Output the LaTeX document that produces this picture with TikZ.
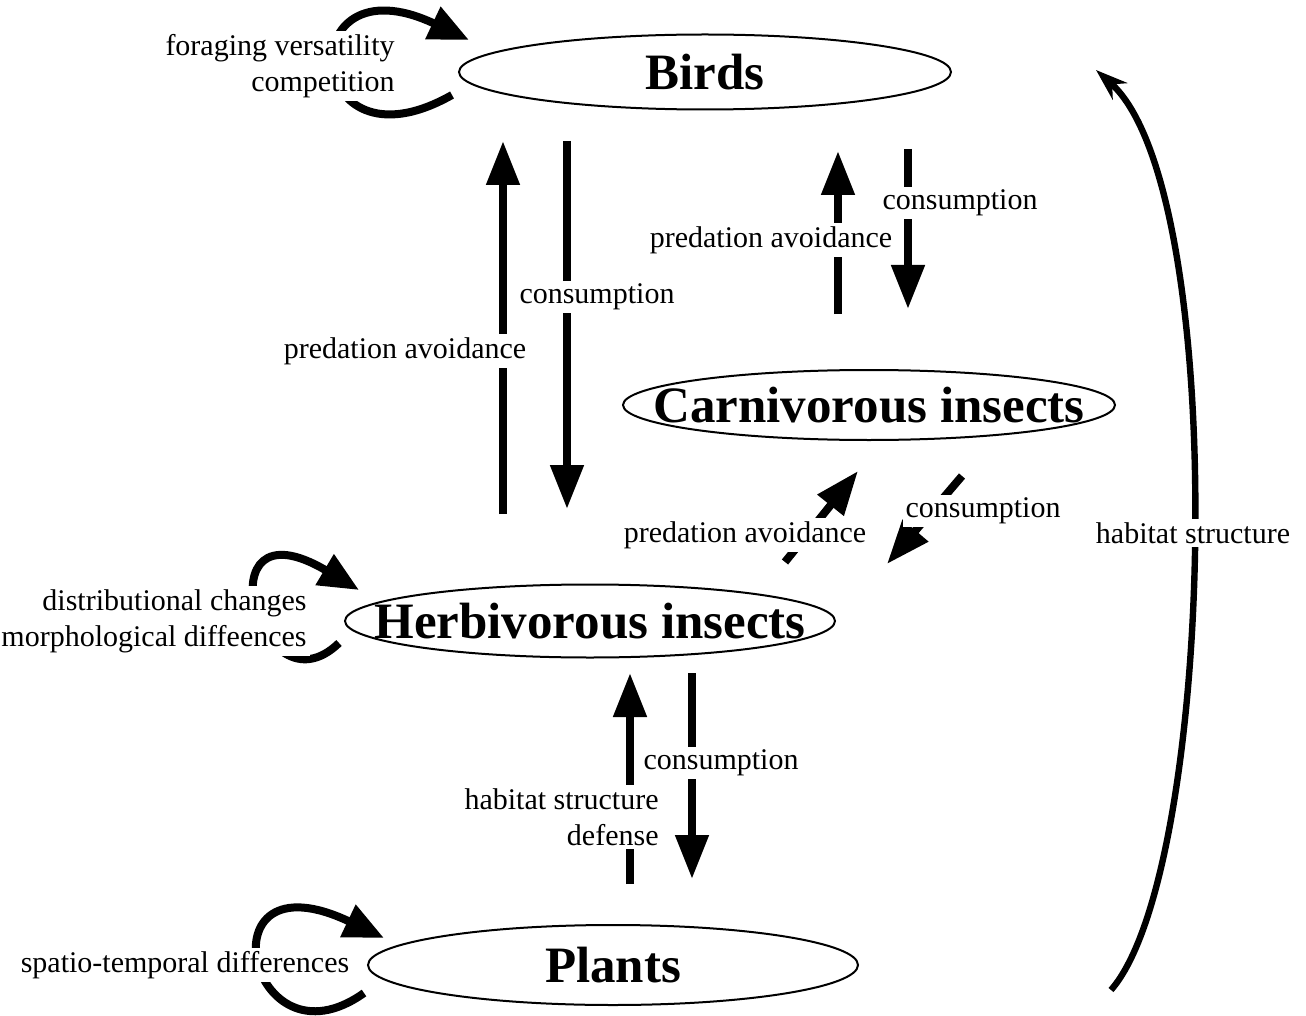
\documentclass[tikz,border=0pt]{standalone}
\usepackage{fontspec}
\setmainfont{Liberation Serif}
\usetikzlibrary{arrows.meta, shapes.geometric, calc}

\begin{document}
\begin{tikzpicture}[x=0.5pt, y=-0.5pt,
      taxon/.style={draw, ellipse, line width=1pt, inner sep=0pt,
                    font=\fontsize{25.5}{30}\selectfont\bfseries},
      lbl/.style={fill=white, inner sep=1.5pt, font=\fontsize{15}{18}\selectfont},
      flow/.style={-{Triangle[length=22pt, width=16pt]}, line width=4pt},
      selfloop/.style={-{Triangle[length=20pt, width=17pt]}, line width=4pt},
      habitat/.style={-{Stealth[length=16pt, width=11pt]}, line width=3.2pt}]
    \useasboundingbox (0,0) rectangle (1306,1016);
    % trophic levels
    \node[taxon, minimum width=246pt, minimum height=37.5pt] (birds)  at (705,72)  {\makebox[0pt]{Birds}};
    \node[taxon, minimum width=246pt, minimum height=35pt]   (carn)   at (869,405) {\makebox[0pt]{Carnivorous insects}};
    \node[taxon, minimum width=245pt, minimum height=36.5pt] (herb)   at (590,621) {\makebox[0pt]{Herbivorous insects}};
    \node[taxon, minimum width=245pt, minimum height=40pt]   (plants) at (613,965) {\makebox[0pt]{Plants}};
    % interactions between levels
    \draw[flow] ([shift={(-138,30.5)}]birds.south) -- ([shift={(-23,-74.5)}]herb.north);
    \draw[flow] ([shift={(-87,-69.5)}]herb.north)  -- ([shift={(-202,30.5)}]birds.south);
    \draw[flow] ([shift={(203,38.5)}]birds.south)  -- ([shift={(39,-60)}]carn.north);
    \draw[flow] ([shift={(-31,-55)}]carn.north)    -- ([shift={(133,40.5)}]birds.south);
    \draw[flow] ([shift={(93,35)}]carn.south)      -- ([shift={(297,-19.5)}]herb.north);
    \draw[flow] ([shift={(195,-21.5)}]herb.north)  -- ([shift={(-11,30)}]carn.south);
    \draw[flow] ([shift={(102,14.5)}]herb.south)   -- ([shift={(79,-45)}]plants.north);
    \draw[flow] ([shift={(17,-40)}]plants.north)   -- ([shift={(40,14.5)}]herb.south);
    \draw[habitat] ([shift={(252,25)}]plants.east)
        .. controls +(105,-120) and +(135,120) .. ([shift={(144,-2)}]birds.east);
    % within-level loops
    \draw[selfloop] ([shift={(-6,23)}]birds.west)
        .. controls +(-150,85) and +(-180,-85) .. ([shift={(11,-32)}]birds.west);
    \draw[selfloop] ([shift={(-5,22)}]herb.west)
        .. controls +(-80,77) and +(-160,-95) .. ([shift={(15,-31)}]herb.west);
    \draw[selfloop] ([shift={(-3,28)}]plants.west)
        .. controls +(-115,82) and +(-185,-88) .. ([shift={(17,-27)}]plants.west);
    % labels
    \node[lbl] (consBH)  at (597,297) {consumption};
    \node[lbl] (avoidBH) at (405,351) {predation avoidance};
    \node[lbl] (consBC)  at (960,203) {consumption};
    \node[lbl] (avoidBC) at (771,240) {predation avoidance};
    \node[lbl] (avoidHC) at (745,535) {predation avoidance};
    \node[lbl] (consCH)  at (983,511) {consumption};
    \node[lbl] (consHP)  at (721,763) {consumption};
    \node[lbl, align=right, anchor=east] (defPH) at (662,817) {habitat structure\\defense};
    \node[lbl] (habPB)   at (1193,533) {habitat structure};
    \node[lbl, align=right, anchor=east] (loopB) at (398,66) {foraging versatility\\competition};
    \node[lbl, align=right, anchor=east] (loopH) at (310,621) {distributional changes\\morphological diffeences};
    \node[lbl] (loopP)   at (185,965) {spatio-temporal differences};
  \end{tikzpicture}
\end{document}
